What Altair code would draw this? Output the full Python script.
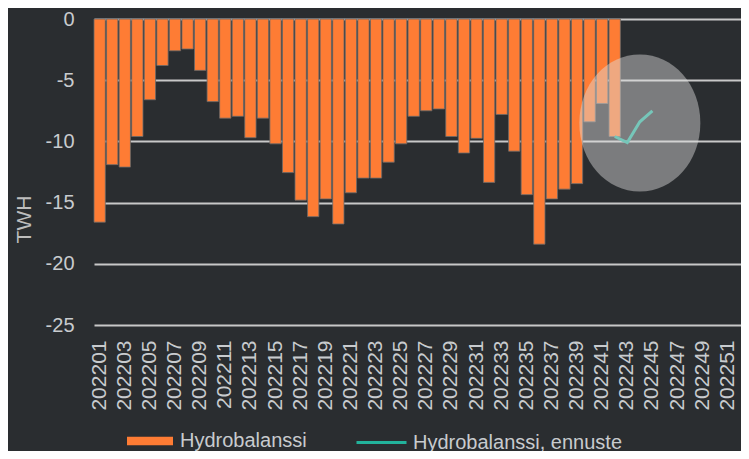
import altair as alt
import pandas as pd

# Categories: ISO weeks of 2022
weeks = ["2022%02d" % w for w in range(1, 53)]
label_weeks = ["2022%02d" % w for w in range(1, 52, 2)]

# Hydrobalance bars (TWh), weeks 202201..202242
bar_weeks = weeks[:42]
bar_values = [-16.6, -11.9, -12.1, -9.6, -6.6, -3.8, -2.6, -2.45, -4.2, -6.75,
              -8.1, -7.95, -9.7, -8.1, -10.2, -12.55, -14.8, -16.15, -14.7, -16.75,
              -14.2, -13.0, -13.0, -11.7, -10.2, -7.95, -7.5, -7.35, -9.6, -10.95,
              -9.75, -13.35, -7.8, -10.8, -14.35, -18.4, -14.7, -13.9, -13.45, -8.4,
              -6.9, -9.6]

# Forecast line
fc_weeks = ["202242", "202243", "202244", "202245"]
fc_values = [-9.6, -10.1, -8.4, -7.5]

# Highlight ellipse annotation
hl_week = ["202244"]
hl_value = [-8.5]

y_ticks = [0, -5, -10, -15, -20, -25]

series_bar = "Hydrobalanssi"
series_fc = "Hydrobalanssi, ennuste"

BG = "#2a2d30"
ORANGE = "#fe7c34"
TEAL = "#22b29b"
TXT = "#c8cbce"
FONT = "Liberation Sans"

df_bar = pd.DataFrame({"week": bar_weeks, "val": bar_values, "series": series_bar})
df_fc = pd.DataFrame({"week": fc_weeks, "val": fc_values, "series2": series_fc})
df_hl = pd.DataFrame({"week": hl_week, "val": hl_value})

x_enc = alt.X("week:O",
              scale=alt.Scale(domain=weeks, range=[0, 652], paddingInner=0.1, paddingOuter=0),
              axis=alt.Axis(values=label_weeks, labelAngle=-90, labelFontSize=21,
                            labelColor=TXT, labelFont=FONT, labelPadding=15,
                            ticks=False, tickSize=0, domain=False, grid=False, title=None,
                            labelOverlap=False))
y_enc = alt.Y("val:Q", scale=alt.Scale(domain=[-25, 0], nice=False),
              axis=alt.Axis(values=y_ticks, labelExpr="'' + datum.value", labelFontSize=20,
                            labelColor=TXT, labelFont=FONT, labelPadding=20,
                            ticks=False, tickSize=0, domain=False, grid=True,
                            gridColor="#c8c8c8", gridWidth=1.8,
                            title="TWH", titleFontSize=21, titleFont=FONT,
                            titleColor="#bdbdbd", titleFontWeight="normal",
                            titleX=-64, titleY=200, titleAngle=270,
                            titleAlign="center", titleBaseline="alphabetic"))

bars = alt.Chart(df_bar).mark_bar(stroke="#6a6a6a", strokeWidth=0.8).encode(
    x=x_enc,
    y=y_enc,
    color=alt.Color("series:N",
                    scale=alt.Scale(domain=[series_bar], range=[ORANGE]),
                    legend=alt.Legend(title=None, orient="none", legendX=33, legendY=399,
                                      symbolType="M-1,-0.18H1V0.18H-1Z", symbolSize=2116,
                                      symbolStrokeWidth=0, labelLimit=0,
                                      labelFontSize=20, labelColor=TXT, labelFont=FONT,
                                      labelOffset=7)),
)

line = alt.Chart(df_fc).mark_line(strokeWidth=3).encode(
    x=alt.X("week:O"),
    y=alt.Y("val:Q"),
    stroke=alt.Stroke("series2:N",
                      scale=alt.Scale(domain=[series_fc], range=[TEAL]),
                      legend=alt.Legend(title=None, orient="none", legendX=261, legendY=397,
                                        symbolType="stroke", symbolSize=2500,
                                        symbolStrokeWidth=3, labelLimit=0,
                                        labelFontSize=20, labelColor=TXT, labelFont=FONT,
                                        labelOffset=5)),
)

ellipse_path = ("M1,0 C1,0.641 0.5523,1.132 0,1.132 C-0.5523,1.132 -1,0.641 -1,0 "
                "C-1,-0.641 -0.5523,-1.132 0,-1.132 C0.5523,-1.132 1,-0.641 1,0 Z")
hl = alt.Chart(df_hl).mark_point(shape=ellipse_path, size=14641, filled=True,
                                 fill="#dedede", opacity=0.45, strokeWidth=0).encode(
    x=alt.X("week:O"),
    y=alt.Y("val:Q"),
)

chart = alt.layer(bars, line, hl).resolve_legend(color="independent", stroke="independent").properties(
    width=647, height=306,
    background=BG,
    padding={"left": 86, "top": 11, "right": 0, "bottom": 126},
    autosize=alt.AutoSizeParams(type="none"),
).configure_view(strokeWidth=0)

chart.save("out.html", embed_options={"renderer": "svg", "actions": False})
